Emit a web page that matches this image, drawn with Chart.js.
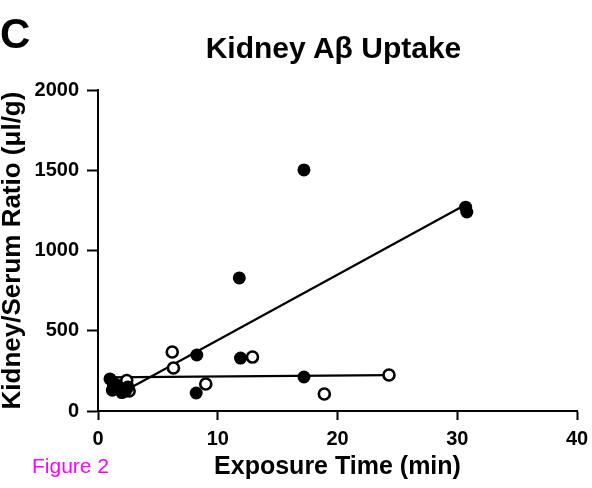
<!DOCTYPE html>
<html><head><meta charset="utf-8">
<script src="https://cdn.jsdelivr.net/npm/chart.js@4/dist/chart.umd.min.js"></script>
<style>
html,body{margin:0;padding:0;background:#fff;}
#wrap{position:relative;width:592px;height:488px;}
canvas{position:absolute;left:0;top:0;}
.t{position:absolute;font-family:"Liberation Sans",Arial,sans-serif;white-space:nowrap;}
</style></head>
<body>
<div id="wrap">
<canvas id="c" width="592" height="488"></canvas>
<div class="t" id="panel" style="left:0px;top:12px;font-size:42px;font-weight:bold;line-height:44px;">C</div>
<div class="t" id="title" style="left:0;width:592px;top:31px;text-align:center;font-size:30px;font-weight:bold;line-height:34px;padding-left:75px;box-sizing:border-box;">Kidney Aβ Uptake</div>
<div class="t" id="fig" style="left:32px;top:454px;font-size:21px;color:#ff00ff;line-height:24px;">Figure 2</div>
</div>
<script>
const xTicks = [0, 10, 20, 30, 40];
const yTicks = [0, 500, 1000, 1500, 2000];
const filledX = [1.0, 1.2, 1.5, 2.0, 2.3, 2.5, 8.2, 8.25, 11.8, 11.9, 17.2, 17.2, 30.7, 30.8];
const filledY = [200, 130, 165, 115, 125, 150, 112, 349, 829, 330, 1502, 212, 1270, 1240];
const openX = [1.3, 2.4, 2.6, 6.2, 6.3, 9.0, 12.9, 18.9, 24.3];
const openY = [170, 190, 125, 368, 268, 168, 336, 106, 224];
const fitFilledX = [2.0, 30.8];
const fitFilledY = [115, 1290];
const fitOpenX = [0.5, 24.3];
const fitOpenY = [210, 224];

const pts = (xs, ys) => xs.map((x, i) => ({x, y: ys[i]}));
const F = '"Liberation Sans", Arial, sans-serif';

new Chart(document.getElementById('c'), {
  type: 'scatter',
  data: {
    datasets: [
      {type: 'line', data: pts(fitFilledX, fitFilledY), borderColor: '#000', borderWidth: 2.2, pointRadius: 0, fill: false, order: 3},
      {type: 'line', data: pts(fitOpenX, fitOpenY), borderColor: '#000', borderWidth: 2.2, pointRadius: 0, fill: false, order: 3},
      {data: pts(filledX, filledY), backgroundColor: '#000', borderColor: '#000', pointRadius: 6.5, pointBorderWidth: 0, order: 1},
      {data: pts(openX, openY), backgroundColor: '#fff', borderColor: '#000', pointRadius: 5.5, pointBorderWidth: 2.6, order: 2}
    ]
  },
  options: {
    responsive: false,
    animation: false,
    devicePixelRatio: 1,
    layout: {padding: {left: 0, right: 15, top: 90, bottom: 0}},
    plugins: {legend: {display: false}, tooltip: {enabled: false}, title: {display: false}},
    scales: {
      x: {
        type: 'linear', min: 0, max: 40,
        afterBuildTicks: s => { s.ticks = xTicks.map(v => ({value: v})); },
        afterFit: s => { s.height = 77; s.paddingRight = 0; s.paddingLeft = 0; },
        border: {display: true, color: '#000', width: 2},
        grid: {display: true, drawOnChartArea: false, drawTicks: true, tickLength: 9, tickColor: '#000', tickWidth: 2},
        ticks: {color: '#000', padding: 7, maxRotation: 0, callback: v => String(v), font: {family: F, size: 20, weight: 'bold'}},
        title: {display: true, text: 'Exposure Time (min)', color: '#000', padding: {top: 0, bottom: 6}, font: {family: F, size: 25, weight: 'bold'}}
      },
      y: {
        type: 'linear', min: 0, max: 2000,
        afterBuildTicks: s => { s.ticks = yTicks.map(v => ({value: v})); },
        afterFit: s => { s.width = 98; s.paddingTop = 0; s.paddingBottom = 0; },
        border: {display: true, color: '#000', width: 2},
        grid: {display: true, drawOnChartArea: false, drawTicks: true, tickLength: 11, tickColor: '#000', tickWidth: 2},
        ticks: {color: '#000', padding: 8, callback: v => String(v), font: {family: F, size: 20, weight: 'bold'}},
        title: {display: true, text: 'Kidney/Serum Ratio (μl/g)', color: '#000', padding: {top: 0, bottom: 0}, font: {family: F, size: 26, weight: 'bold', lineHeight: 1}}
      }
    }
  }
});
</script>
</body></html>
